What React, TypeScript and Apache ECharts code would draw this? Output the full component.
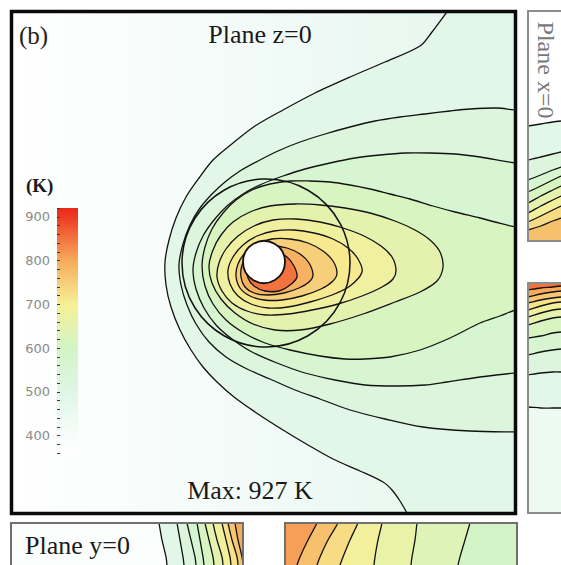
import React, { useEffect, useRef } from 'react';
import * as echarts from 'echarts';

type Pt = [number, number];

// ---------- colour scale (K) ----------
const SCALE_LEVELS = [400, 500, 600, 700, 800, 900];
const SCALE_COLORS = ['#f7fdfb', '#e0f6e6', '#d3f4c6', '#f7f096', '#f6ab5c', '#ee3b22'];
const COLORBAR_RANGE: Pt = [360, 920];
const COLORBAR_TICK_STEP = 20;
const COLORBAR_LABEL_STEP = 100;
const MAX_TEMP = 927;

// ---------- texts ----------
const PANEL_TAG = '(b)';
const TITLE = 'Plane z=0';
const UNIT = '(K)';
const MAX_LABEL = `Max: ${MAX_TEMP} K`;
const SIDE_LABEL = 'Plane x=0';
const BOTTOM_LABEL = 'Plane y=0';

// ---------- main panel (plane z=0) contours, outermost first ----------
const C0: Pt[] = [[455,2],[447,12],[432,32],[420,46],[385,62],[350,77],[315,93],[283,110],[255,126],[233,143],[213,160],[199,178],[186,197],[176,218],[169,240],[165,262],[166,285],[171,307],[180,330],[191,350],[203,367],[217,382],[234,397],[258,414],[283,430],[308,445],[333,459],[360,471],[383,482],[392,490],[400,501],[407,513],[412,522]];
const C1: Pt[] = [[530,110],[516,110],[497,108],[470,109],[450,111],[425,114],[400,117],[375,121],[350,127],[325,134],[300,142],[278,151],[258,161],[240,171],[225,182],[212,194],[200,208],[190,225],[183,244],[179,264],[181,285],[187,305],[196,324],[209,342],[226,357],[247,369],[270,379],[295,390],[320,399],[350,410],[385,419],[423,427],[470,431],[516,432],[530,432]];
const C2: Pt[] = [[530,163],[516,163],[480,157],[455,154],[430,153],[405,153],[380,155],[355,158],[330,163],[305,169],[283,176],[262,184],[243,194],[227,206],[214,220],[203,236],[196,253],[193,270],[196,289],[204,308],[216,325],[232,339],[252,352],[277,363],[305,373],[335,380],[365,385],[397,386],[425,385],[447,382],[480,377],[516,373],[530,373]];
const C3: Pt[] = [[530,227],[516,227],[495,222],[480,218],[455,212],[433,206],[410,199],[390,194],[370,189],[350,185],[330,182],[310,181],[290,181],[270,184],[252,190],[236,200],[223,213],[212,229],[205,247],[202,266],[205,286],[213,304],[226,320],[244,333],[265,343],[290,350],[320,356],[345,359],[365,359],[390,357],[420,350],[450,338],[480,323],[500,316],[516,310],[530,310]];
const C4: Pt[] = [[443,267],[440,252],[430,240],[415,230],[395,221],[370,213],[345,208],[320,205],[295,204],[270,206],[250,212],[233,222],[221,235],[213,250],[209,266],[212,283],[221,299],[235,313],[253,324],[275,330],[300,330],[330,324],[363,314],[395,302],[420,292],[437,281]];
const C5: Pt[] = [[396,270],[392,257],[381,246],[364,236],[343,228],[320,222],[296,219],[273,220],[254,226],[238,236],[226,249],[219,263],[217,277],[222,291],[232,303],[247,311],[266,315],[288,314],[312,310],[338,304],[362,296],[382,287],[393,279]];
const C6: Pt[] = [[362,272],[358,259],[348,248],[333,239],[314,233],[294,230],[274,231],[257,236],[243,245],[233,257],[228,270],[230,284],[238,296],[251,304],[268,308],[288,307],[310,302],[332,295],[350,286]];
const C7: Pt[] = [[337,273],[333,261],[323,251],[308,243],[290,239],[272,239],[257,244],[245,253],[238,264],[236,276],[240,288],[250,296],[264,300],[282,300],[302,296],[321,289],[333,281]];
const C8: Pt[] = [[313,275],[309,263],[300,254],[287,248],[272,246],[258,248],[248,255],[242,265],[241,277],[245,287],[254,293],[268,295],[284,293],[299,288],[309,282]];
const C9: Pt[] = [[297,277],[294,266],[287,257],[275,251],[262,251],[252,257],[247,267],[248,278],[254,286],[265,291],[279,291],[290,285]];
const MAIN_CONTOURS = [C0, C1, C2, C3, C4, C5, C6, C7, C8, C9];
const MAIN_LEVELS = [490, 530, 570, 610, 650, 680, 710, 750, 790, 850];
const MAIN_CLOSED = [false, false, false, false, true, true, true, true, true, true];
const PROBE_CIRCLE = [266, 263, 84];
const SPHERE = [264, 262, 21];

// ---------- right panels (plane x=0) ----------
const R1_LINES: Pt[][] = [
  [[520,127],[528,126],[545,124],[561,122],[572,121]],
  [[520,161],[528,160],[545,157],[561,154],[572,152]],
  [[520,182],[528,180],[545,175],[561,170],[572,167]],
  [[520,194],[528,192],[545,186],[561,180],[572,176]],
  [[520,205],[528,203],[545,196],[561,190],[572,186]],
  [[520,215],[528,213],[545,206],[561,200],[572,196]],
  [[520,224],[528,222],[545,216],[561,210],[572,206]],
  [[520,232],[528,230],[545,226],[561,221],[572,218]],
];
const R1_LEVELS = [490, 530, 570, 610, 650, 690, 730, 770];

const R2_LINES: Pt[][] = [
  [[520,407],[528,407],[545,408],[561,408],[572,408]],
  [[520,376],[528,375],[545,373],[561,372],[572,372]],
  [[520,356],[528,355],[545,352],[561,350],[572,349]],
  [[520,339],[528,338],[545,336],[561,333],[572,332]],
  [[520,326],[528,325],[545,321],[561,318],[572,317]],
  [[520,318],[528,317],[545,313],[561,310],[572,309]],
  [[520,311],[528,310],[545,306],[561,303],[572,302]],
  [[520,304],[528,303],[545,300],[561,298],[572,297]],
  [[520,298],[528,297],[545,294],[561,292],[572,291]],
  [[520,291],[528,290],[545,288],[561,287],[572,286]],
];
const R2_LEVELS = [490, 530, 570, 610, 650, 690, 720, 760, 800, 850];
const R2_BACKGROUND = 450;

// ---------- bottom panels (plane y=0) ----------
const B1_LINES: Pt[][] = [
  [[158,515],[159,523],[162,544],[166,565],[167,575]],
  [[176,515],[177,523],[180,544],[183,565],[184,575]],
  [[186,515],[187,523],[191,544],[195,565],[196,575]],
  [[196,515],[197,523],[200,544],[203,565],[204,575]],
  [[204,515],[205,523],[209,544],[213,565],[214,575]],
  [[212,515],[213,523],[217,544],[222,565],[223,575]],
  [[221,515],[222,523],[226,544],[230,565],[231,575]],
  [[227,515],[228,523],[232,544],[237,565],[238,575]],
  [[234,515],[235,523],[238,544],[242,565],[243,575]],
];
const B1_LEVELS = [490, 530, 570, 610, 650, 690, 720, 760, 800];

const B2_LINES: Pt[][] = [
  [[472,515],[470,523],[465,544],[460,565],[458,575]],
  [[418,515],[417,523],[415,544],[412,565],[411,575]],
  [[383,515],[382,523],[378,544],[375,565],[374,575]],
  [[360,515],[358,523],[350,544],[343,565],[340,575]],
  [[340,515],[338,523],[328,544],[320,565],[317,575]],
  [[319,515],[317,523],[308,544],[300,565],[297,575]],
];
const B2_LEVELS = [630, 660, 690, 730, 770, 810];
const B2_BACKGROUND = 600;

// ---------- panel data extents ----------
const MAIN_X: Pt = [13, 514];
const MAIN_Y: Pt = [13, 512];
const R1_X: Pt = [528, 572];
const R1_Y: Pt = [12, 240];
const R2_X: Pt = [528, 572];
const R2_Y: Pt = [283, 513];
const B1_X: Pt = [11, 243];
const B1_Y: Pt = [523, 575];
const B2_X: Pt = [285, 517];
const B2_Y: Pt = [523, 575];

interface Band { pts: Pt[]; level: number; closed: boolean; line: boolean }

const SMOOTH = 0.3;
const LINE_COLOR = '#121212';

function rectPts(x: Pt, y: Pt): Pt[] {
  return [[x[0] - 5, y[0] - 5], [x[1] + 5, y[0] - 5], [x[1] + 5, y[1] + 5], [x[0] - 5, y[1] + 5]];
}

function bandSeries(axisIndex: number, bands: Band[], close: Pt[]) {
  return {
    type: 'custom',
    coordinateSystem: 'cartesian2d',
    xAxisIndex: axisIndex,
    yAxisIndex: axisIndex,
    clip: true,
    silent: true,
    z: 2,
    data: bands.map((b, i) => [i, b.level]),
    renderItem: (params: any, api: any) => {
      const b = bands[params.dataIndex];
      const pts = b.pts.map((p) => api.coord(p));
      const fillPts = b.closed ? pts : pts.concat(close.map((p) => api.coord(p)));
      const children: any[] = [
        {
          type: 'polygon',
          shape: { points: fillPts, smooth: b.line ? SMOOTH : 0 },
          style: { fill: api.visual('color'), stroke: null, lineWidth: 0 },
        },
      ];
      if (b.line) {
        children.push({
          type: b.closed ? 'polygon' : 'polyline',
          shape: { points: pts, smooth: SMOOTH },
          style: { fill: null, stroke: LINE_COLOR, lineWidth: 1.3 },
        });
      }
      return { type: 'group', children };
    },
  };
}

const App: React.FC = () => {
  const ref = useRef<HTMLDivElement>(null);

  useEffect(() => {
    if (!ref.current) return;
    const chart = echarts.init(ref.current, undefined, { renderer: 'svg' });

    const mainBands: Band[] = MAIN_CONTOURS.map((pts, i) => ({ pts, level: MAIN_LEVELS[i], closed: MAIN_CLOSED[i], line: true }));
    const r1Bands: Band[] = R1_LINES.map((pts, i) => ({ pts, level: R1_LEVELS[i], closed: false, line: true }));
    const r2Bands: Band[] = [{ pts: rectPts(R2_X, R2_Y), level: R2_BACKGROUND, closed: true, line: false }].concat(
      R2_LINES.map((pts, i) => ({ pts, level: R2_LEVELS[i], closed: false, line: true }))
    );
    const b1Bands: Band[] = B1_LINES.map((pts, i) => ({ pts, level: B1_LEVELS[i], closed: false, line: true }));
    const b2Bands: Band[] = [{ pts: rectPts(B2_X, B2_Y), level: B2_BACKGROUND, closed: true, line: false }].concat(
      B2_LINES.map((pts, i) => ({ pts, level: B2_LEVELS[i], closed: false, line: true }))
    );

    const span = COLORBAR_RANGE[1] - COLORBAR_RANGE[0];
    const barStops = [{ offset: 0, color: '#e9281a' }]
      .concat(
        SCALE_LEVELS.slice()
          .reverse()
          .map((lv, i) => ({ offset: (COLORBAR_RANGE[1] - lv) / span, color: SCALE_COLORS[SCALE_COLORS.length - 1 - i] }))
      )
      .concat([{ offset: 1, color: '#ffffff' }]);

    const serif = '"Liberation Serif", "Times New Roman", serif';

    chart.setOption({
      animation: false,
      backgroundColor: '#ffffff',
      grid: [
        {
          left: 13, top: 13, width: 501, height: 499, show: true, borderWidth: 0,
          backgroundColor: new echarts.graphic.LinearGradient(0, 0, 1, 0, [
            { offset: 0, color: '#ffffff' },
            { offset: 0.45, color: '#f3fbf8' },
            { offset: 1, color: '#e3f6ed' },
          ]),
        },
        { left: 57, top: 208, width: 21, height: 245 },
        { left: 528, top: 12, width: 44, height: 228, show: true, borderWidth: 0, backgroundColor: '#ffffff' },
        { left: 528, top: 283, width: 44, height: 230 },
        { left: 11, top: 523, width: 232, height: 52, show: true, borderWidth: 0, backgroundColor: '#fbfefd' },
        { left: 285, top: 523, width: 232, height: 52 },
      ],
      xAxis: [
        { gridIndex: 0, type: 'value', min: MAIN_X[0], max: MAIN_X[1], show: false },
        { gridIndex: 1, type: 'value', min: 0, max: 1, show: false },
        { gridIndex: 2, type: 'value', min: R1_X[0], max: R1_X[1], show: false },
        { gridIndex: 3, type: 'value', min: R2_X[0], max: R2_X[1], show: false },
        { gridIndex: 4, type: 'value', min: B1_X[0], max: B1_X[1], show: false },
        { gridIndex: 5, type: 'value', min: B2_X[0], max: B2_X[1], show: false },
      ],
      yAxis: [
        { gridIndex: 0, type: 'value', min: MAIN_Y[0], max: MAIN_Y[1], inverse: true, show: false },
        {
          gridIndex: 1, type: 'value', min: COLORBAR_RANGE[0], max: COLORBAR_RANGE[1], interval: COLORBAR_TICK_STEP,
          position: 'left', z: 5,
          axisLine: { show: false },
          axisTick: { show: true, inside: true, length: 3, lineStyle: { color: '#3a3a3a', width: 1 } },
          splitLine: { show: false },
          axisLabel: {
            show: true, margin: 7, color: '#8a8a8a', fontFamily: '"DejaVu Sans", sans-serif', fontSize: 13,
            formatter: (v: number) => (v % COLORBAR_LABEL_STEP === 0 ? String(v) : ''),
          },
        },
        { gridIndex: 2, type: 'value', min: R1_Y[0], max: R1_Y[1], inverse: true, show: false },
        { gridIndex: 3, type: 'value', min: R2_Y[0], max: R2_Y[1], inverse: true, show: false },
        { gridIndex: 4, type: 'value', min: B1_Y[0], max: B1_Y[1], inverse: true, show: false },
        { gridIndex: 5, type: 'value', min: B2_Y[0], max: B2_Y[1], inverse: true, show: false },
      ],
      visualMap: {
        type: 'continuous', show: false, dimension: 1, min: SCALE_LEVELS[0], max: SCALE_LEVELS[SCALE_LEVELS.length - 1],
        seriesIndex: [0, 1, 2, 3, 4],
        inRange: { color: SCALE_COLORS },
      },
      series: [
        bandSeries(0, mainBands, [[620, 620], [620, -60]]),
        bandSeries(2, r1Bands, [[600, 320], [480, 320]]),
        bandSeries(3, r2Bands, [[600, 240], [480, 240]]),
        bandSeries(4, b1Bands, [[300, 600], [300, 480]]),
        bandSeries(5, b2Bands, [[200, 600], [200, 480]]),
        {
          type: 'custom', xAxisIndex: 1, yAxisIndex: 1, z: 1, silent: true,
          data: [[0, COLORBAR_RANGE[0], 1, COLORBAR_RANGE[1]]],
          renderItem: (params: any, api: any) => {
            const p0 = api.coord([api.value(0), api.value(3)]);
            const p1 = api.coord([api.value(2), api.value(1)]);
            return {
              type: 'rect',
              shape: { x: p0[0], y: p0[1], width: p1[0] - p0[0], height: p1[1] - p0[1] },
              style: { fill: new echarts.graphic.LinearGradient(0, 0, 0, 1, barStops) },
            };
          },
        },
        {
          type: 'custom', xAxisIndex: 0, yAxisIndex: 0, z: 3, silent: true,
          data: [PROBE_CIRCLE],
          renderItem: (params: any, api: any) => {
            const c = api.coord([api.value(0), api.value(1)]);
            const r = api.size([api.value(2), 0])[0];
            return { type: 'circle', shape: { cx: c[0], cy: c[1], r }, style: { fill: null, stroke: LINE_COLOR, lineWidth: 1.5 } };
          },
        },
        {
          type: 'custom', xAxisIndex: 0, yAxisIndex: 0, z: 4, silent: true,
          data: [SPHERE],
          renderItem: (params: any, api: any) => {
            const c = api.coord([api.value(0), api.value(1)]);
            const r = api.size([api.value(2), 0])[0];
            return { type: 'circle', shape: { cx: c[0], cy: c[1], r }, style: { fill: '#ffffff', stroke: '#111111', lineWidth: 1.8 } };
          },
        },
      ],
      graphic: [
        { type: 'rect', z: 100, silent: true, shape: { x: 11.5, y: 11.5, width: 504, height: 502 }, style: { fill: null, stroke: '#0a0a0a', lineWidth: 3.5 } },
        { type: 'rect', z: 100, silent: true, shape: { x: 528, y: 11, width: 50, height: 230 }, style: { fill: null, stroke: '#8c8c8c', lineWidth: 2 } },
        { type: 'rect', z: 100, silent: true, shape: { x: 528, y: 283, width: 50, height: 230 }, style: { fill: null, stroke: '#8c8c8c', lineWidth: 2 } },
        { type: 'rect', z: 100, silent: true, shape: { x: 11, y: 523, width: 232, height: 60 }, style: { fill: null, stroke: '#707070', lineWidth: 2 } },
        { type: 'rect', z: 100, silent: true, shape: { x: 285, y: 523, width: 232, height: 60 }, style: { fill: null, stroke: '#707070', lineWidth: 2 } },
        { type: 'text', z: 101, silent: true, x: 19, y: 35, style: { text: PANEL_TAG, font: `25px ${serif}`, fill: '#222', align: 'left', verticalAlign: 'middle', textAlign: 'left', textVerticalAlign: 'middle' } },
        { type: 'text', z: 101, silent: true, x: 260, y: 34, style: { text: TITLE, font: `26px ${serif}`, fill: '#1a1a1a', align: 'center', verticalAlign: 'middle', textAlign: 'center', textVerticalAlign: 'middle' } },
        { type: 'text', z: 101, silent: true, x: 250, y: 490, style: { text: MAX_LABEL, font: `26px ${serif}`, fill: '#1a1a1a', align: 'center', verticalAlign: 'middle', textAlign: 'center', textVerticalAlign: 'middle' } },
        { type: 'text', z: 101, silent: true, x: 26, y: 185, style: { text: UNIT, font: `bold 19px ${serif}`, fill: '#1a1a1a', align: 'left', verticalAlign: 'middle', textAlign: 'left', textVerticalAlign: 'middle' } },
        { type: 'text', z: 101, silent: true, x: 25, y: 545, style: { text: BOTTOM_LABEL, font: `26px ${serif}`, fill: '#1a1a1a', align: 'left', verticalAlign: 'middle', textAlign: 'left', textVerticalAlign: 'middle' } },
        { type: 'text', z: 101, silent: true, x: 546, y: 70, rotation: -Math.PI / 2, style: { text: SIDE_LABEL, font: `24px ${serif}`, fill: '#777777', align: 'center', verticalAlign: 'middle', textAlign: 'center', textVerticalAlign: 'middle' } },
      ],
    });

    return () => chart.dispose();
  }, []);

  return <div ref={ref} style={{ position: 'fixed', left: 0, top: 0, width: 561, height: 565 }} />;
};

export default App;
